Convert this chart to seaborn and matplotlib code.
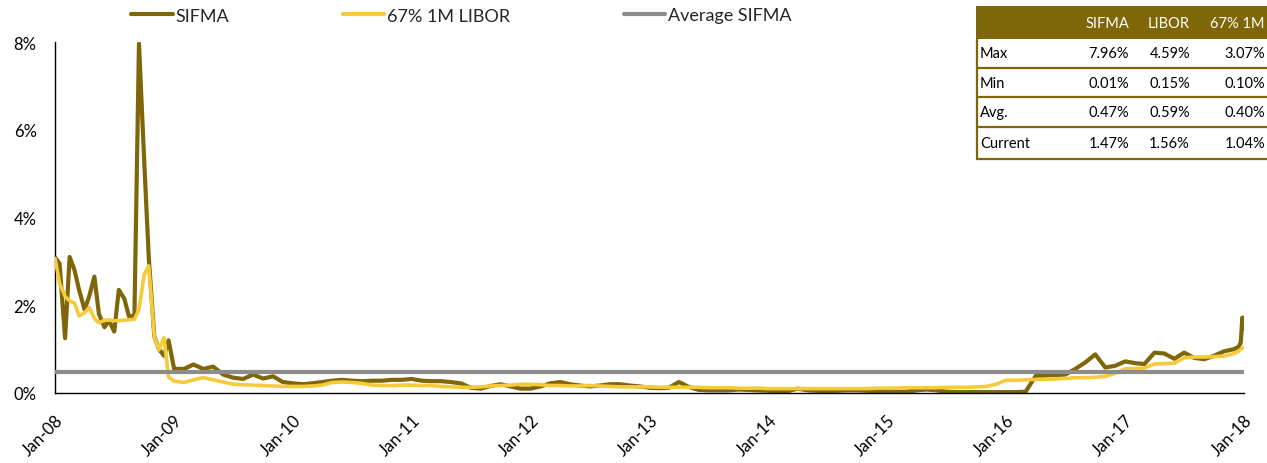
import seaborn as sns
import pandas as pd
import numpy as np
import matplotlib.pyplot as plt
import matplotlib.dates as mdates
from matplotlib.patches import Rectangle

# ---- data (percent) ----
# 2008 read twice a month, 2009-2017 monthly, then the last weeks of Dec 2017
sifma_2008 = [3.09, 2.95, 1.25, 3.10, 2.80, 2.35, 1.90, 2.20, 2.65, 1.80, 1.50, 1.65,
              1.40, 2.35, 2.15, 1.75, 1.75, 7.96, 5.30, 3.10, 1.30, 1.00, 0.85, 1.20]
libor_2008 = [3.07, 2.50, 2.20, 2.10, 2.05, 1.76, 1.83, 1.95, 1.70, 1.60, 1.66, 1.66,
              1.65, 1.65, 1.66, 1.67, 1.68, 1.90, 2.70, 2.90, 1.30, 0.98, 1.26, 0.36]

sifma_monthly = [
    0.55, 0.55, 0.65, 0.55, 0.60, 0.42, 0.35, 0.32, 0.42, 0.33, 0.38, 0.25,  # 2009
    0.22, 0.20, 0.22, 0.25, 0.28, 0.30, 0.28, 0.27, 0.28, 0.28, 0.30, 0.30,  # 2010
    0.32, 0.28, 0.27, 0.27, 0.25, 0.22, 0.12, 0.10, 0.16, 0.20, 0.15, 0.10,  # 2011
    0.10, 0.15, 0.22, 0.25, 0.20, 0.17, 0.15, 0.17, 0.20, 0.20, 0.17, 0.15,  # 2012
    0.12, 0.11, 0.12, 0.25, 0.14, 0.07, 0.06, 0.06, 0.06, 0.08, 0.07, 0.06,  # 2013
    0.05, 0.04, 0.04, 0.10, 0.06, 0.05, 0.04, 0.05, 0.06, 0.06, 0.05, 0.04,  # 2014
    0.03, 0.02, 0.03, 0.06, 0.08, 0.06, 0.03, 0.02, 0.02, 0.02, 0.02, 0.02,  # 2015
    0.02, 0.02, 0.03, 0.39, 0.40, 0.41, 0.42, 0.55, 0.70, 0.88, 0.58, 0.62,  # 2016
    0.72, 0.68, 0.66, 0.92, 0.90, 0.78, 0.92, 0.80, 0.77, 0.85, 0.95, 1.00,  # 2017
]
libor_monthly = [
    0.27, 0.24, 0.30, 0.35, 0.30, 0.25, 0.20, 0.19, 0.18, 0.17, 0.16, 0.15,  # 2009
    0.15, 0.15, 0.16, 0.18, 0.24, 0.25, 0.24, 0.22, 0.18, 0.17, 0.17, 0.18,  # 2010
    0.18, 0.17, 0.17, 0.15, 0.14, 0.13, 0.13, 0.14, 0.16, 0.17, 0.18, 0.20,  # 2011
    0.20, 0.19, 0.17, 0.17, 0.16, 0.16, 0.17, 0.16, 0.15, 0.14, 0.14, 0.14,  # 2012
    0.14, 0.13, 0.13, 0.13, 0.13, 0.13, 0.12, 0.12, 0.12, 0.11, 0.11, 0.11,  # 2013
    0.10, 0.10, 0.10, 0.10, 0.10, 0.10, 0.10, 0.10, 0.10, 0.10, 0.10, 0.11,  # 2014
    0.11, 0.11, 0.12, 0.12, 0.12, 0.12, 0.13, 0.13, 0.13, 0.14, 0.15, 0.20,  # 2015
    0.29, 0.29, 0.30, 0.31, 0.31, 0.32, 0.33, 0.35, 0.35, 0.36, 0.38, 0.45,  # 2016
    0.55, 0.56, 0.57, 0.66, 0.67, 0.68, 0.80, 0.82, 0.82, 0.83, 0.84, 0.90,  # 2017
]

tail_dates = ["2017-12-15", "2017-12-22", "2017-12-27", "2018-01-01"]
sifma_tail = [1.05, 1.15, 1.72, 1.47]
libor_tail = [0.95, 1.00, 1.02, 1.04]

avg_sifma = 0.47

table_cols = ["SIFMA", "LIBOR", "67% 1M"]
table_rows = ["Max", "Min", "Avg.", "Current"]
table_vals = [["7.96%", "4.59%", "3.07%"],
              ["0.01%", "0.15%", "0.10%"],
              ["0.47%", "0.59%", "0.40%"],
              ["1.47%", "1.56%", "1.04%"]]

OLIVE = "#7F6608"
YELLOW = "#F6CB3A"
GREY = "#8C8C8C"

dates = (list(pd.date_range("2008-01-01", periods=24, freq="SMS"))
         + list(pd.date_range("2009-01-01", "2017-12-01", freq="MS"))
         + list(pd.to_datetime(tail_dates)))

df = pd.concat([
    pd.DataFrame({"date": dates, "rate": sifma_2008 + sifma_monthly + sifma_tail, "series": "SIFMA"}),
    pd.DataFrame({"date": dates, "rate": libor_2008 + libor_monthly + libor_tail, "series": "67% 1M LIBOR"}),
])

sns.set_style("white")
plt.rcParams["font.family"] = ["Lato", "DejaVu Sans"]

fig = plt.figure(figsize=(12.67, 4.64), dpi=100)
ax = fig.add_axes([55 / 1267, 1 - 394 / 464, (1244 - 55) / 1267, (394 - 43) / 464])

sns.lineplot(data=df, x="date", y="rate", hue="series", ax=ax,
             palette={"SIFMA": OLIVE, "67% 1M LIBOR": YELLOW},
             hue_order=["SIFMA", "67% 1M LIBOR"], linewidth=3.0, legend=False)
# yellow drawn over olive in the reference
ax.lines[1].set_zorder(3)
ax.lines[0].set_zorder(2)
ax.lines[1].set_linewidth(2.6)
ax.axhline(avg_sifma, color=GREY, linewidth=3.0, zorder=4)

ax.set_xlim(pd.Timestamp("2008-01-01"), pd.Timestamp("2018-01-01"))
ax.set_ylim(0, 8)
ax.set_yticks([0, 2, 4, 6, 8])
ax.yaxis.set_major_formatter(plt.FuncFormatter(lambda v, p: f"{v:.0f}%"))
ax.xaxis.set_major_locator(mdates.YearLocator())
ax.xaxis.set_major_formatter(mdates.DateFormatter("%b-%y"))
ax.set_xlabel("")
ax.set_ylabel("")
for s in ["top", "right"]:
    ax.spines[s].set_visible(False)
for s in ["left", "bottom"]:
    ax.spines[s].set_color("black")
    ax.spines[s].set_linewidth(1.0)
ax.tick_params(axis="both", direction="out", length=4.2, width=1.0, color="black",
               labelsize=12, labelcolor="black")
ax.tick_params(axis="y", pad=9)
ax.tick_params(axis="x", pad=9.5)
for lab in ax.get_xticklabels():
    lab.set_rotation(45)
    lab.set_ha("right")
    lab.set_va("top")
    lab.set_rotation_mode("anchor")

handles = [plt.Line2D([], [], color=OLIVE, lw=3.0),
           plt.Line2D([], [], color=YELLOW, lw=3.0),
           plt.Line2D([], [], color=GREY, lw=3.0)]
fig.legend(handles, ["SIFMA", "67% 1M LIBOR", "Average SIFMA"], ncol=3,
           loc="center left", bbox_to_anchor=(131 / 1267, 1 - 16.5 / 464),
           frameon=False, fontsize=13, handlelength=2.3, handletextpad=0.15,
           columnspacing=6.3, borderaxespad=0, borderpad=0)

# ---- summary table in pixel coordinates ----
tab = fig.add_axes([0, 0, 1, 1], zorder=10)
tab.set_xlim(0, 1267)
tab.set_ylim(464, 0)
tab.axis("off")
tab.patch.set_alpha(0)

tab.add_patch(Rectangle((976, 7), 300, 33, facecolor=OLIVE, edgecolor="none"))
for y in [69, 98, 128, 160]:
    tab.plot([976, 1267], [y, y], color=OLIVE, lw=1.6, solid_capstyle="butt")
tab.plot([977, 977], [40, 160], color=OLIVE, lw=1.6)
col_x = [1129, 1190, 1265]
for cx, name in zip(col_x, table_cols):
    tab.text(cx, 24, name, ha="right", va="center", color="white", fontsize=10.5)
row_y = [54.5, 83.5, 113, 144]
for ry, name, vals in zip(row_y, table_rows, table_vals):
    tab.text(980, ry, name, ha="left", va="center", color="black", fontsize=10.5)
    for cx, v in zip(col_x, vals):
        tab.text(cx, ry, v, ha="right", va="center", color="black", fontsize=10.5)

fig.savefig("out.png", dpi=100)
